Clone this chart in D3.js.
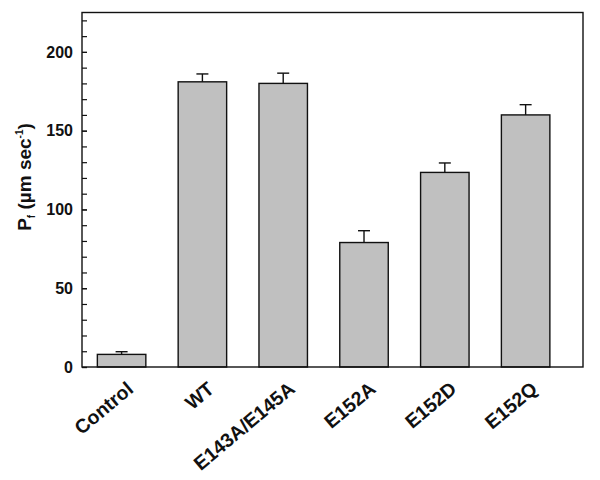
<!DOCTYPE html>
<html>
<head>
<meta charset="utf-8">
<script src="https://cdn.jsdelivr.net/npm/d3@7"></script>
<style>
  body { margin: 0; background: #fff; }
  text { font-family: Arial, "Liberation Sans", sans-serif; font-weight: bold; }
</style>
</head>
<body>
<div id="chart" style="width:600px;height:480px"></div>
<script>
const categories = ['Control', 'WT', 'E143A/E145A', 'E152A', 'E152D', 'E152Q'];
const values = [8, 181, 180, 79, 123.5, 160];
const errors = [1.7, 5, 6.5, 7.5, 6, 6.5];
const yTicks = [0, 50, 100, 150, 200];
const yMinorTicks = d3.range(0, 221, 10);

const svgWidth = 600, svgHeight = 480;
const margin = {top: 12.5, right: 17, bottom: 113, left: 82};
const innerWidth = svgWidth - margin.left - margin.right;
const innerHeight = svgHeight - margin.top - margin.bottom;

const svg = d3.select('#chart').append('svg')
    .attr('width', svgWidth)
    .attr('height', svgHeight);

const g = svg.append('g')
    .attr('transform', `translate(${margin.left},${margin.top})`);

// categories sit at 1..6 on a linear scale, a bit more room on the right
const xScale = d3.scaleLinear()
    .domain([0.51, 6.71])
    .range([0, innerWidth]);

const yScale = d3.scaleLinear()
    .domain([0, 225])
    .range([innerHeight, 0]);

const barW = xScale(1.6) - xScale(1);

const data = categories.map((c, i) => ({name: c, x: i + 1, value: values[i], err: errors[i]}));

// bars
g.append('g').selectAll('rect').data(data)
    .enter()
    .append('rect')
    .attr('x', d => xScale(d.x) - barW / 2)
    .attr('y', d => yScale(d.value))
    .attr('width', barW)
    .attr('height', d => innerHeight - yScale(d.value))
    .attr('fill', '#c0c0c0')
    .attr('stroke', '#111')
    .attr('stroke-width', 1.4);

// error bars (upper only)
const eb = g.append('g').attr('stroke', '#111').attr('stroke-width', 1.4);
eb.selectAll('line.v').data(data)
    .enter()
    .append('line')
    .attr('class', 'v')
    .attr('x1', d => xScale(d.x))
    .attr('x2', d => xScale(d.x))
    .attr('y1', d => yScale(d.value))
    .attr('y2', d => yScale(d.value + d.err));
eb.selectAll('line.c').data(data)
    .enter()
    .append('line')
    .attr('class', 'c')
    .attr('x1', d => xScale(d.x) - 6)
    .attr('x2', d => xScale(d.x) + 6)
    .attr('y1', d => yScale(d.value + d.err))
    .attr('y2', d => yScale(d.value + d.err));

// minor ticks every 10, pointing inward
const minorG = g.append('g').call(d3.axisLeft(yScale).tickValues(yMinorTicks).tickSize(-5));
minorG.select('.domain').remove();
minorG.selectAll('text').remove();
minorG.selectAll('line').attr('stroke', '#111').attr('stroke-width', 1.2);

// labelled ticks every 50
const yAxisG = g.append('g').call(d3.axisLeft(yScale).tickValues(yTicks).tickSize(-5).tickPadding(9));
yAxisG.select('.domain').remove();
yAxisG.selectAll('line').attr('stroke', '#111').attr('stroke-width', 1.2);
yAxisG.selectAll('text')
    .attr('font-size', 16)
    .attr('font-weight', 'bold')
    .attr('fill', '#111');

// frame
g.append('rect')
    .attr('x', 0).attr('y', 0)
    .attr('width', innerWidth).attr('height', innerHeight)
    .attr('fill', 'none')
    .attr('stroke', '#111')
    .attr('stroke-width', 1.4);

// category labels, rotated
g.append('g').selectAll('text').data(data)
    .enter()
    .append('text')
    .attr('text-anchor', 'end')
    .attr('font-size', 19.5)
    .attr('fill', '#111')
    .attr('transform', d => `translate(${xScale(d.x) + 13},${innerHeight + 24}) rotate(-40)`)
    .text(d => d.name);

// y axis label
const yl = svg.append('text')
    .attr('transform', `translate(31,177) rotate(-90)`)
    .attr('text-anchor', 'middle')
    .attr('font-size', 19)
    .attr('fill', '#111');
yl.append('tspan').text('P');
yl.append('tspan').attr('font-size', 10).attr('dy', 4).text('f');
yl.append('tspan').attr('dy', -4).text(' (\u00b5m sec');
yl.append('tspan').attr('font-size', 10).attr('dy', -8).text('-1');
yl.append('tspan').attr('dy', 8).text(')');
</script>
</body>
</html>
